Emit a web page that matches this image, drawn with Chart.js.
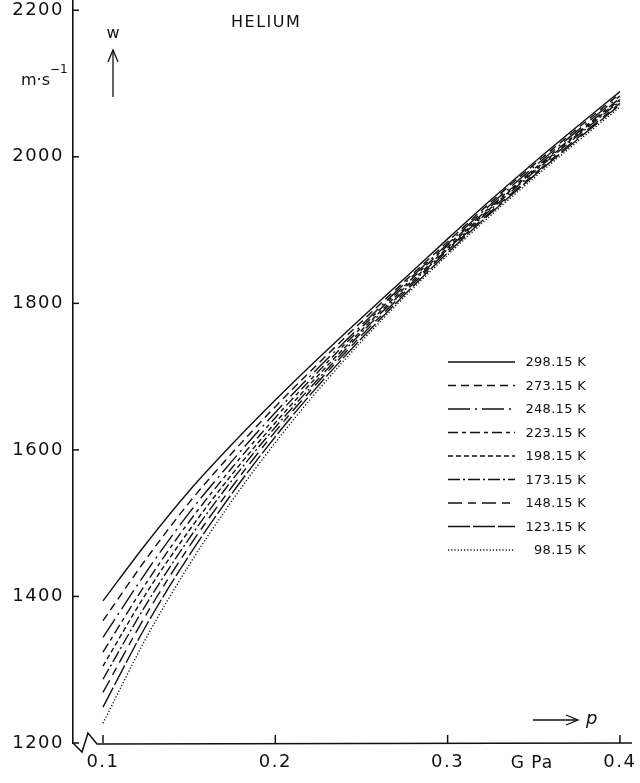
<!DOCTYPE html>
<html><head><meta charset="utf-8">
<script src="https://cdn.jsdelivr.net/npm/chart.js@4/dist/chart.umd.min.js"></script>
<style>html,body{margin:0;padding:0;background:#fff;}canvas{display:block;}</style>
</head><body>
<canvas id="c" width="640" height="783"></canvas>
<script>
// ---- data ----
const pressureGPa = [0.100,0.125,0.150,0.175,0.200,0.225,0.250,0.275,0.300,0.325,0.350,0.375,0.400];
const temperatureLabels = ['298.15 K','273.15 K','248.15 K','223.15 K','198.15 K','173.15 K','148.15 K','123.15 K','98.15 K'];
const w_298 = [1394,1472,1544,1608,1668,1725,1780,1834,1888,1941,1992,2041,2089];
const w_273 = [1367,1451,1528,1596,1659,1718,1775,1830,1884,1938,1989,2038,2086];
const w_248 = [1344,1433,1514,1585,1651,1712,1770,1827,1881,1935,1986,2035,2083];
const w_223 = [1324,1418,1502,1576,1644,1707,1767,1824,1879,1932,1983,2032,2080];
const w_198 = [1305,1404,1490,1567,1637,1702,1763,1821,1876,1930,1981,2030,2078];
const w_173 = [1287,1389,1479,1559,1631,1697,1760,1818,1874,1928,1979,2028,2076];
const w_148 = [1269,1375,1468,1550,1625,1693,1756,1815,1872,1925,1976,2025,2073];
const w_123 = [1249,1360,1456,1541,1618,1688,1752,1812,1869,1923,1974,2023,2071];
const w_98  = [1227,1343,1443,1531,1610,1682,1748,1809,1866,1920,1971,2020,2068];
const yTickValues = [1200,1400,1600,1800,2000,2200];
const xTickValues = [0.1,0.2,0.3,0.4];
const xTickLabels = ['0.1','0.2','0.3','0.4'];

// ---- styles ----
const seriesList = [w_298,w_273,w_248,w_223,w_198,w_173,w_148,w_123,w_98];
const dashes = [[],[8,5],[22,5,2,5],[10,4,4,4],[5,3],[12,3,2,3],[14,6,8,6],[22,3],[1.2,2]];

const datasets = seriesList.map((arr,i)=>({
  label: temperatureLabels[i],
  data: arr.map((w,j)=>({x:pressureGPa[j], y:w})),
  borderColor:'#111', borderWidth:1.4, borderDash:dashes[i],
  pointRadius:0, fill:false, cubicInterpolationMode:'monotone'
}));

const FONT = 'DejaVu Sans';

const spacing = {
  id:'spacing',
  beforeDraw(chart){ try{chart.ctx.letterSpacing='1.5px';}catch(e){} }
};

const decor = {
  id:'decor',
  afterDraw(chart){
    const ctx = chart.ctx, ca = chart.chartArea;
    const xs = chart.scales.x, ys = chart.scales.y;
    try{ctx.letterSpacing='0px';}catch(e){}
    ctx.save();
    ctx.strokeStyle='#111'; ctx.fillStyle='#111'; ctx.lineWidth=1.5;
    // axis break and x axis line
    const L = ca.left, B = ca.bottom;
    ctx.beginPath();
    ctx.moveTo(L,B); ctx.lineTo(L+9,B+9); ctx.lineTo(L+15,B-10); ctx.lineTo(L+24,B+1);
    ctx.lineTo(ca.right,B);
    ctx.stroke();
    // inward ticks
    yTickValues.forEach(v=>{const y=ys.getPixelForValue(v); ctx.beginPath(); ctx.moveTo(L,y); ctx.lineTo(L+6,y); ctx.stroke();});
    xTickValues.forEach(v=>{const x=xs.getPixelForValue(v); ctx.beginPath(); ctx.moveTo(x,B); ctx.lineTo(x,B-8); ctx.stroke();});
    // title
    ctx.textBaseline='alphabetic';
    ctx.font = '16px "'+FONT+'"';
    try{ctx.letterSpacing='1.5px';}catch(e){}
    ctx.textAlign='left';
    ctx.fillText('HELIUM', 231, 27);
    try{ctx.letterSpacing='0px';}catch(e){}
    // w with arrow
    ctx.font = '16px "'+FONT+'"';
    ctx.textAlign='center';
    ctx.fillText('w', 113, 38);
    ctx.lineWidth=1.3;
    ctx.beginPath(); ctx.moveTo(113,97); ctx.lineTo(113,50); ctx.stroke();
    ctx.beginPath(); ctx.moveTo(108,62); ctx.lineTo(113,50); ctx.lineTo(118,62); ctx.stroke();
    // unit
    ctx.textAlign='left';
    ctx.font = '16px "'+FONT+'"';
    ctx.fillText('m\u00b7s', 21, 85);
    ctx.font = '12px "'+FONT+'"';
    ctx.fillText('\u22121', 50, 73);
    // p arrow
    ctx.beginPath(); ctx.moveTo(533,720); ctx.lineTo(578,720); ctx.stroke();
    ctx.beginPath(); ctx.moveTo(566,715); ctx.lineTo(578,720); ctx.lineTo(566,725); ctx.stroke();
    ctx.font = 'italic 18px "'+FONT+'"';
    ctx.fillText('p', 586, 724);
    // unit on x
    ctx.font = '17px "'+FONT+'"';
    try{ctx.letterSpacing='1px';}catch(e){}
    ctx.textAlign='center';
    ctx.fillText('G Pa', 532, 768);
    // legend
    ctx.font = '13px "'+FONT+'"';
    try{ctx.letterSpacing='0.3px';}catch(e){}
    chart.data.datasets.forEach((ds,i)=>{
      const y = 362 + i*23.5;
      ctx.setLineDash(ds.borderDash||[]);
      ctx.lineWidth = 1.4;
      ctx.beginPath(); ctx.moveTo(448,y); ctx.lineTo(515,y); ctx.stroke();
      ctx.setLineDash([]);
      ctx.textAlign='right'; ctx.textBaseline='middle';
      ctx.fillText(ds.label, 586, y+1);
    });
    ctx.restore();
  }
};

new Chart(document.getElementById('c'), {
  type:'line',
  data:{datasets},
  options:{
    responsive:false, animation:false, devicePixelRatio:1,
    layout:{padding:{left:0,right:8,top:0,bottom:0}},
    plugins:{legend:{display:false}, tooltip:{enabled:false}},
    scales:{
      x:{type:'linear', min:0.0826, max:0.407,
        afterBuildTicks:s=>{s.ticks = xTickValues.map(v=>({value:v}));},
        afterFit:s=>{s.height=40; s.paddingLeft=0; s.paddingRight=0;},
        ticks:{color:'#111', font:{family:FONT,size:18}, padding:9, maxRotation:0, autoSkip:false,
          callback:(v,i)=>xTickLabels[i]},
        grid:{display:true, drawOnChartArea:false, drawTicks:false},
        border:{display:false}
      },
      y:{type:'linear', min:1200, max:2214,
        afterBuildTicks:s=>{s.ticks = yTickValues.map(v=>({value:v}));},
        afterFit:s=>{s.width=73; s.paddingTop=0; s.paddingBottom=0;},
        ticks:{color:'#111', font:{family:FONT,size:18}, padding:9, autoSkip:false,
          callback:v=>String(v)},
        grid:{display:true, drawOnChartArea:false, drawTicks:false},
        border:{display:true, color:'#111', width:1.6}
      }
    }
  },
  plugins:[spacing, decor]
});
</script>
</body></html>
